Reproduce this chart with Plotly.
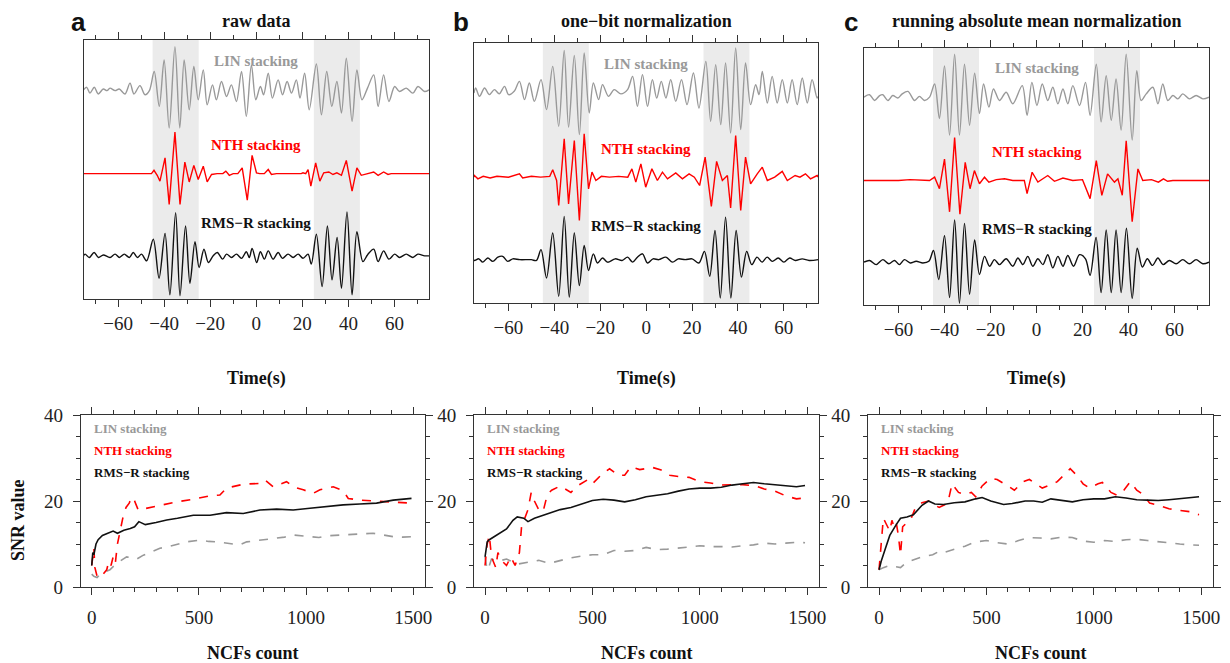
import plotly.graph_objects as go

# ---------------- data: waveforms (time s, relative amplitude) ----------------
TIME_RANGE = [-75, 75]
BANDS = [(-45, -25), (25, 45)]
OFFSETS = {"LIN": 0, "NTH": -101, "RMS": -200}

LIN_A = [(-75,0),(-73.6,3),(-72.2,-4),(-70.3,3),(-68.6,-5),(-66.4,1),(-64.8,-1),(-63.5,2),(-61.3,-1),(-59.5,1),(-57.0,-5),(-54.8,8),(-53.1,-5),(-50.5,5),(-48.3,-6),(-46.4,-1),(-44.3,22),(-42.1,-20),(-40.0,36),(-37.8,-46),(-35.3,52),(-33.2,-46),(-31.3,36),(-29.1,-24),(-27.1,28),(-25.2,-12),(-23.0,24),(-21.3,-18),(-19.0,6),(-17.3,-12),(-15.1,10),(-12.9,-8),(-10.8,6),(-8.6,-14),(-6.4,22),(-4.3,-32),(-2.1,30),(-0.2,-12),(1.8,4),(3.2,-6),(5.2,20),(7.0,-10),(9.5,12),(11.4,-6),(13.4,10),(15.3,-4),(17.4,12),(19.0,-10),(21.0,20),(23.0,-24),(26.1,31),(28.3,-30),(30.6,22),(32.8,-20),(35.0,10),(37.0,-28),(39.1,38),(41.6,-38),(43.7,24),(45.9,-12),(48.3,2),(51.0,18),(52.9,-20),(55.3,18),(57.6,-14),(60.1,4),(62.2,-2),(65.1,2),(68.0,-4),(70.2,4),(73.1,-2),(75,0)]
NTH_A = [(-75,0),(-45.5,0),(-44.4,4),(-43.0,-2),(-41.8,-9),(-39.6,19),(-37.8,-37),(-35.3,50),(-33.1,-37),(-31.0,14),(-29.1,-10),(-27.1,10),(-25.2,-7),(-23.0,9),(-21.3,-10),(-19.4,-1),(-17.0,0),(-14.5,0),(-13.2,3),(-11.7,-2),(-10.0,0),(-8.0,0),(-6.1,7),(-3.9,-32),(-1.8,22),(0.1,1),(1.5,0),(3.5,0),(5.2,5),(6.6,-1),(8.8,0),(12,0),(19.5,0),(20.3,1),(21.5,0),(22.5,5),(23.7,-15),(25.8,13),(27.6,-9),(29.3,1),(31.5,2),(33.3,-1),(35.0,1),(37.0,-2),(39.1,16),(41.6,-21),(43.7,7),(45.6,-2),(48,0),(51.0,2),(52.9,-2),(55.3,2),(57.2,-1),(58.6,0),(75,0)]
RMS_A = [(-75,0),(-74.3,2),(-72.5,-2),(-70.4,4),(-68.5,-2),(-66.4,1),(-63.5,-2),(-61.3,2),(-59.4,-2),(-57.3,2),(-55.1,-2),(-53.4,4),(-51.6,-2),(-49.8,2),(-47.6,-6),(-44.7,20),(-42.2,-27),(-39.6,27),(-37.5,-47),(-35.0,52),(-33.1,-48),(-30.7,36),(-28.8,-33),(-26.6,17),(-24.8,-14),(-22.7,8),(-20.8,-8),(-18.7,0),(-16.9,4),(-14.6,-4),(-12.9,2),(-10.7,-2),(-8.6,2),(-6.4,-3),(-4.3,5),(-3.0,-2),(-1.8,9),(0.2,-8),(1.8,5),(3.5,-4),(5.2,6),(7.3,-4),(9.5,4),(11.4,-3),(13.8,2),(16.0,-2),(18.2,2),(20.3,-3),(22.5,2),(23.9,-10),(26.1,26),(28.6,-37),(30.9,36),(32.9,-29),(35.1,22),(37.0,-39),(39.4,53),(41.6,-47),(43.7,29),(46.3,-7),(48.5,2),(51.0,8),(52.9,-7),(55.3,6),(57.6,-4),(60.1,2),(62.2,-2),(65.1,2),(68.0,-2),(70.2,2),(73.1,0),(75,0)]

LIN_B = [(-75,0),(-74.3,6),(-72.6,-4),(-70.4,6),(-68.3,-2),(-66.1,4),(-64.0,-1),(-61.7,8),(-59.9,-2),(-57.5,2),(-55.2,14),(-53.0,-8),(-50.9,12),(-48.7,-10),(-45.8,16),(-43.4,-20),(-40.7,32),(-38.1,-40),(-35.7,51),(-33.8,-41),(-31.3,45),(-29.1,-50),(-27.0,48),(-24.8,-24),(-23.0,12),(-20.7,-8),(-19.0,10),(-16.4,-4),(-13.9,4),(-11.0,-1),(-8.1,4),(-5.9,20),(-3.8,-16),(-1.6,22),(0.6,-16),(2.7,16),(4.6,-6),(6.6,14),(8.6,-6),(10.7,16),(12.9,-10),(15.4,16),(17.8,-14),(20.6,24),(23.0,-18),(26.0,38),(28.1,-34),(30.3,34),(32.5,-38),(34.6,36),(36.8,-48),(39.0,54),(41.2,-44),(43.3,36),(45.5,-14),(47.7,10),(49.2,-2),(50.6,26),(52.8,-12),(54.9,20),(57.1,-12),(59.3,16),(61.5,-12),(63.6,16),(65.8,-14),(68.0,18),(70.2,-12),(72.3,16),(74.5,-6),(75,-4)]
NTH_B = [(-75,0),(-74.8,2),(-73.3,-2),(-71,1),(-68,-1),(-65,1),(-60,0),(-55.2,4),(-53.8,-1),(-50,1),(-46,0),(-42,1),(-40.7,9),(-39.0,-4),(-38.1,-34),(-35.7,46),(-33.8,-32),(-31.3,44),(-29.1,-52),(-27.0,52),(-25.1,-14),(-23.6,6),(-21.9,-4),(-19.5,1),(-16,0),(-12,1),(-8,0),(-6.2,10),(-4.5,-6),(-2.3,16),(-0.2,-12),(2.5,10),(4.9,-4),(7.1,6),(9.3,-2),(12.9,5),(15.8,-2),(18.7,4),(21,0),(23.3,-10),(25.7,24),(28.4,-35),(30.7,19),(33.2,-4),(35.4,2),(36.8,-37),(39.0,50),(41.2,-40),(43.3,24),(45.5,-8),(48.4,4),(50.6,12),(52.8,-4),(56,0),(59.3,7),(61.5,-4),(64.9,2),(67,0),(69.4,4),(71.6,-2),(74.5,2),(75,0)]
RMS_B = [(-75,0),(-74.8,-1),(-72.9,1),(-71.2,-3),(-69.0,2),(-66.8,-2),(-64.6,3),(-62.5,4),(-60.3,-2),(-58.1,1),(-55,0),(-50,0),(-47.8,-1),(-45.8,12),(-43.4,-22),(-40.7,32),(-38.1,-44),(-35.7,52),(-33.5,-45),(-31.3,32),(-29.1,-31),(-27.0,17),(-25.1,-13),(-23.0,7),(-21.2,-4),(-19.0,2),(-16.8,-3),(-13.5,1),(-10.5,-1),(-8.1,3),(-5.9,-3),(-3.8,3),(-1.6,7),(0.6,-4),(3,1),(5.5,0),(8.6,3),(11.5,-3),(14,1),(17,0),(20,1),(23.0,-4),(25.4,10),(27.7,-20),(30.0,35),(32.3,-46),(34.6,51),(36.9,-46),(39.2,35),(41.5,-21),(43.8,10),(46.0,-6),(48.3,3),(50.5,-3),(52.7,3),(55,-2),(57.5,2),(60,-3),(62.5,2),(65,-1),(68,1),(71,-1),(75,0)]

LIN_C = [(-75,0),(-72.6,3),(-70.4,-4),(-68.2,2),(-66.8,3),(-64.6,-4),(-62.5,2),(-60.3,-1),(-58.4,4),(-55.9,7),(-53.0,-4),(-50.9,1),(-48.7,-4),(-46.5,0),(-44.3,16),(-42.2,-26),(-40.0,38),(-37.8,-46),(-35.6,52),(-33.5,-46),(-31.3,40),(-29.1,-34),(-26.9,29),(-24.8,-20),(-23.0,16),(-20.7,-12),(-18.7,10),(-16.1,-4),(-13.2,6),(-10.3,-8),(-6.2,14),(-4.1,-22),(-2.0,18),(0.2,-10),(2.5,16),(4.9,-4),(7.1,12),(9.3,-8),(11.5,10),(13.6,-8),(15.8,14),(18.7,-10),(21.3,18),(23.3,-22),(26.0,40),(28.1,-30),(30.3,26),(32.5,-28),(34.6,22),(36.8,-40),(39.0,52),(41.6,-52),(43.6,32),(45.5,-4),(47.7,4),(50.6,12),(52.8,-8),(54.9,16),(57.1,-4),(59.3,2),(61.5,-2),(63.6,4),(66.5,-2),(69.4,2),(72.3,-2),(75,0)]
NTH_C = [(-75,0),(-60,0),(-55,1),(-50,0),(-46.5,0),(-44.3,4),(-42.2,-10),(-40.0,26),(-37.8,-38),(-35.6,52),(-33.3,-41),(-31.0,22),(-28.9,-10),(-27.0,12),(-24.8,-4),(-22.6,4),(-20.7,-2),(-17.5,1),(-13.9,2),(-10.3,0),(-5.3,0),(-4.1,-16),(-1.9,10),(0.6,-2),(2.8,2),(4.9,6),(7.8,-1),(11.5,3),(15.8,0),(20.0,1),(23.3,-22),(26.0,24),(28.4,-18),(30.9,8),(33.9,-2),(35.4,2),(37.3,-18),(39.0,48),(41.6,-50),(44.1,14),(46.2,0),(50,1),(53,-2),(55.2,2),(57,-1),(59.3,0),(75,0)]
RMS_C = [(-75,0),(-72.6,2),(-69.7,-3),(-66.8,3),(-64.2,-2),(-61.7,2),(-59.6,-3),(-57.4,3),(-54.9,-1),(-52.3,1),(-49.4,-1),(-46.8,1),(-44.8,14),(-42.5,-21),(-40.0,32),(-37.8,-43),(-35.6,51),(-33.5,-50),(-31.3,47),(-29.1,-39),(-26.9,27),(-24.8,-15),(-22.6,7),(-20.4,-5),(-18.3,3),(-16.1,-3),(-13.2,4),(-10.3,-5),(-8.1,5),(-5.9,-3),(-3.8,7),(-1.6,-5),(0.6,4),(2.8,-3),(4.9,9),(7.1,-7),(9.3,7),(11.5,-5),(13.6,8),(16.1,-5),(18.7,9),(21.3,4),(23.3,-16),(25.9,30),(28.1,-37),(30.3,39),(32.5,-37),(34.6,39),(36.8,-37),(39.1,41),(41.6,-44),(43.8,17),(46.0,-6),(48.2,4),(50.4,-4),(52.8,5),(55.0,-3),(57.8,2),(60.7,-2),(63.6,3),(66.5,-2),(69.4,3),(72.3,-2),(75,0)]

# ---------------- data: SNR vs number of NCFs ----------------
LIN_A_SNR = [(0,3),(10,2.5),(25,2.2),(40,3),(60,3.5),(85,4),(116,5.5),(140,6.2),(163,7),(190,6.8),(210,6.5),(241,7.4),(280,8.2),(318,9),(360,9.4),(396,9.8),(443,10.5),(505,10.9),(545,10.6),(583,10.5),(640,10.1),(691,9.8),(723,10.5),(785,10.9),(850,11.2),(900,11.6),(940,12.1),(980,11.9),(1018,11.7),(1060,11.5),(1096,11.9),(1173,12.1),(1240,12.2),(1313,12.5),(1360,12.1),(1407,11.7),(1450,11.6),(1492,11.7)]
NTH_A_SNR = [(0,5),(5,8),(10,9),(15,4.5),(25,2.5),(40,2.2),(55,3),(70,4),(80,6),(90,5),(100,7),(110,5.5),(120,10),(132,13),(145,16),(160,18.5),(175,19.5),(186,20.9),(200,20),(217,17.9),(256,18.3),(318,19.1),(396,19.8),(474,20.4),(552,21.2),(598,21.4),(629,23),(707,23.9),(785,24.1),(808,24.9),(847,23.3),(909,24.5),(940,23.3),(987,22.6),(1034,21.8),(1065,22.6),(1127,23.3),(1173,22.4),(1197,20.6),(1251,20.2),(1329,20.0),(1407,19.8),(1492,19.5)]
RMS_A_SNR = [(0,5),(5,8),(10,7.5),(20,10),(30,11),(50,12),(75,12.5),(100,13),(120,12.5),(150,13.2),(180,13.6),(200,14),(220,15.2),(250,14.5),(300,15),(350,15.6),(400,16),(474,16.7),(552,16.7),(629,17.3),(707,17.1),(785,17.9),(863,18.1),(940,17.9),(1018,18.3),(1096,18.7),(1173,19.1),(1251,19.3),(1329,19.5),(1407,20.2),(1492,20.6)]

LIN_B_SNR = [(0,7),(10,4),(20,5),(30,6.5),(60,6),(100,6.5),(150,5.3),(200,5.8),(250,6.2),(300,5.5),(350,6.2),(400,6.8),(450,7.2),(500,7.5),(550,7.5),(600,8.5),(650,8.3),(700,8.5),(750,9.2),(800,8.7),(850,8.8),(900,9),(950,9.3),(1000,9.6),(1050,9.4),(1100,9.4),(1150,9.3),(1200,9.6),(1250,9.8),(1300,10.2),(1350,10),(1400,10.2),(1450,10.4),(1490,10.3)]
NTH_B_SNR = [(0,5),(10,10),(20,12),(30,7),(50,4.5),(60,8),(80,6),(100,5),(120,7),(140,5),(160,8),(170,14),(185,16),(200,18),(215,22),(230,20),(250,18),(270,17.5),(290,21.5),(310,22.5),(350,23.5),(400,22),(430,23.5),(480,25),(500,24),(550,26.5),(580,27.5),(620,26),(650,26),(680,28),(720,27.3),(780,27.8),(820,27.2),(860,26),(900,25.7),(950,25.5),(1000,24.5),(1050,24.2),(1100,23.7),(1150,23.8),(1200,23.8),(1260,23.5),(1300,22.8),(1350,22.3),(1400,21.2),(1450,20.5),(1490,20.7)]
RMS_B_SNR = [(0,7),(10,10.5),(20,11),(50,12),(80,13),(100,13.5),(130,15.5),(150,16.3),(180,16),(200,15.2),(230,16),(260,16.5),(300,17.2),(350,18),(400,18.5),(450,19.3),(500,20.1),(550,20.4),(600,20.2),(650,19.8),(700,20.3),(750,21),(800,21.3),(850,21.7),(900,22.3),(950,22.8),(1000,23),(1050,23),(1100,23.2),(1150,23.7),(1200,24),(1250,24.3),(1300,24),(1350,23.8),(1400,23.6),(1450,23.3),(1490,23.6)]

LIN_C_SNR = [(0,4),(20,4.5),(50,5),(100,4.5),(130,5.8),(170,6.5),(200,7),(250,7.5),(280,8.3),(300,8),(350,8.8),(400,9.5),(450,10.5),(500,10.8),(550,10.3),(600,10),(650,10.8),(700,11.5),(750,11.4),(800,11.2),(850,11.6),(900,11.5),(950,10.7),(1000,10.4),(1050,10.8),(1100,10.6),(1150,11),(1200,11.1),(1250,10.8),(1300,10.5),(1350,10.3),(1400,10),(1450,9.8),(1490,9.7)]
NTH_C_SNR = [(0,4),(10,10),(20,16),(30,15),(50,13),(60,15.5),(70,14),(80,15),(90,12),(100,7.5),(110,14),(130,15),(150,16),(170,18.5),(200,19.6),(230,20),(250,19.3),(280,18.5),(320,19.5),(340,24),(370,22),(400,21.5),(430,22),(450,21),(480,23.5),(520,25.3),(550,25),(600,23.5),(630,22.5),(670,24.5),(700,25),(730,24),(760,23),(800,23.8),(830,24.5),(870,26.5),(890,27.5),(920,26),(950,24),(980,23),(1020,24),(1040,24.3),(1080,22),(1110,21.3),(1140,22.5),(1170,24.5),(1200,22.5),(1230,21.5),(1260,19.5),(1300,19),(1350,18.2),(1400,17.8),(1450,17.5),(1490,16.8)]
RMS_C_SNR = [(0,4),(10,6),(30,9),(50,12),(80,14.5),(100,16),(130,16.3),(160,16.8),(200,19),(230,20),(260,19.3),(300,19.2),(350,19.6),(400,19.8),(450,20.5),(480,20.8),(520,20),(580,19.2),(620,19.4),(680,20),(720,20),(760,19.7),(800,20.5),(850,20.2),(900,19.8),(950,20.3),(1000,20.5),(1050,20.5),(1100,21),(1150,20.7),(1200,20.3),(1250,20.2),(1300,20.1),(1350,20.3),(1400,20.5),(1450,20.8),(1490,21)]

PANEL_TITLES = ["raw data", "one\u2212bit normalization", "running absolute mean normalization"]
PANEL_LETTERS = ["a", "b", "c"]
METHOD_LABELS = {"LIN": "LIN stacking", "NTH": "NTH stacking", "RMS": "RMS\u2212R stacking"}

# ---------------- style ----------------
PAGE_OFF = 8                    # the page body adds an 8 px margin
W, H = 1230 - PAGE_OFF, 663 - PAGE_OFF
SERIF = "Liberation Serif"
SANS = "Liberation Sans"
FRAME = "#333333"
COLORS = {"LIN": "#999999", "NTH": "#ff0000", "RMS": "#111111"}

def px_x(p):
    return (p - PAGE_OFF) / W

def px_y(p):
    return 1 - (p - PAGE_OFF) / H

TOP_BOX = [(83.5, 429, 40, 299), (474, 818.3, 43, 303), (864, 1209, 47.7, 305)]
BOT_BOX = [(81, 425, 415, 587), (474.3, 819, 415, 587), (868.3, 1213, 415, 587)]

def paper_text(x, y, text, size, color="#111", family=SERIF, xanchor="center", angle=0):
    return dict(x=px_x(x), y=px_y(y), xref="paper", yref="paper", showarrow=False,
                xanchor=xanchor, yanchor="middle", text=text, textangle=angle,
                font=dict(family=family, size=size, color=color))

fig = go.Figure()
layout = dict(width=W, height=H, margin=dict(l=0, r=0, t=0, b=0, pad=0, autoexpand=False),
              paper_bgcolor="white", plot_bgcolor="white", showlegend=False,
              font=dict(family=SERIF, size=18, color="#222"),
              shapes=[], annotations=[])

wave_sets = [(LIN_A, NTH_A, RMS_A), (LIN_B, NTH_B, RMS_B), (LIN_C, NTH_C, RMS_C)]
snr_sets = [(LIN_A_SNR, NTH_A_SNR, RMS_A_SNR), (LIN_B_SNR, NTH_B_SNR, RMS_B_SNR), (LIN_C_SNR, NTH_C_SNR, RMS_C_SNR)]

def tickfont():
    return dict(family=SERIF, size=19, color="#222")

for i in range(3):
    # ---- top panel (waveforms) ----
    xa = "x" if i == 0 else f"x{i+1}"
    ya = "y" if i == 0 else f"y{i+1}"
    l, r, t, b = TOP_BOX[i]
    layout["xaxis" if i == 0 else f"xaxis{i+1}"] = dict(
        domain=[px_x(l), px_x(r)], anchor=ya, range=TIME_RANGE,
        showline=True, linecolor=FRAME, linewidth=1.4, mirror="ticks",
        ticks="outside", tick0=0, dtick=20, ticklen=7, tickwidth=1.2, tickcolor=FRAME,
        minor=dict(ticks="outside", dtick=10, ticklen=4, tickwidth=1.2, tickcolor=FRAME),
        showgrid=False, zeroline=False, tickfont=tickfont(), automargin=False)
    layout["yaxis" if i == 0 else f"yaxis{i+1}"] = dict(
        domain=[px_y(b), px_y(t)], anchor=xa, range=[-252, 60],
        showline=True, linecolor=FRAME, linewidth=1.4, mirror=True,
        ticks="", showticklabels=False, showgrid=False, zeroline=False, automargin=False)
    for (b0, b1) in BANDS:
        layout["shapes"].append(dict(type="rect", xref=xa, yref=f"{ya} domain",
                                     x0=b0, x1=b1, y0=0, y1=1, fillcolor="#ebebeb",
                                     line=dict(width=0), layer="below"))
    for key, wave in zip(["LIN", "NTH", "RMS"], wave_sets[i]):
        ts = [p[0] for p in wave]
        amps = [p[1] + OFFSETS[key] for p in wave]
        if key == "NTH":
            line = dict(color=COLORS[key], width=1.4, shape="linear")
        else:
            line = dict(color=COLORS[key], width=1.4, shape="spline", smoothing=0.9)
        fig.add_trace(go.Scatter(x=ts, y=amps, mode="lines", xaxis=xa, yaxis=ya,
                                 line=line, hoverinfo="skip"))
    for key, yv in zip(["LIN", "NTH", "RMS"], [35, -67, -160]):
        layout["annotations"].append(dict(x=0, y=yv, xref=xa, yref=ya, showarrow=False,
                                          xanchor="center", yanchor="middle",
                                          text=f"<b>{METHOD_LABELS[key]}</b>",
                                          font=dict(family=SERIF, size=15, color=COLORS[key])))
    cx = (l + r) / 2
    layout["annotations"].append(paper_text(cx, 21, f"<b>{PANEL_TITLES[i]}</b>", 18))
    layout["annotations"].append(paper_text(cx, 378, "<b>Time(s)</b>", 18))

    # ---- bottom panel (SNR) ----
    j = i + 4
    xb, yb = f"x{j}", f"y{j}"
    l2, r2, t2, b2 = BOT_BOX[i]
    layout[f"xaxis{j}"] = dict(
        domain=[px_x(l2), px_x(r2)], anchor=yb, range=[-50, 1555],
        showline=True, linecolor=FRAME, linewidth=1.4, mirror="ticks",
        ticks="outside", tick0=0, dtick=500, ticklen=7, tickwidth=1.2, tickcolor=FRAME,
        minor=dict(ticks="outside", dtick=100, ticklen=4, tickwidth=1.2, tickcolor=FRAME),
        showgrid=False, zeroline=False, tickfont=tickfont(), automargin=False,
        ticklabelstandoff=6)
    layout[f"yaxis{j}"] = dict(
        domain=[px_y(b2), px_y(t2)], anchor=xb, range=[0, 40],
        showline=True, linecolor=FRAME, linewidth=1.4, mirror="ticks",
        ticks="outside", tick0=0, dtick=20, ticklen=7, tickwidth=1.2, tickcolor=FRAME,
        minor=dict(ticks="outside", dtick=5, ticklen=4, tickwidth=1.2, tickcolor=FRAME),
        showgrid=False, zeroline=False, tickfont=tickfont(), automargin=False,
        ticklabelstandoff=6)
    for key, curve in zip(["LIN", "NTH", "RMS"], snr_sets[i]):
        ns = [p[0] for p in curve]
        vs = [p[1] for p in curve]
        dash = "solid" if key == "RMS" else "dash"
        fig.add_trace(go.Scatter(x=ns, y=vs, mode="lines", xaxis=xb, yaxis=yb,
                                 line=dict(color=COLORS[key], width=1.6, dash=dash),
                                 hoverinfo="skip"))
    for key, ypx in zip(["LIN", "NTH", "RMS"], [428, 450, 472]):
        layout["annotations"].append(paper_text(l2 + 11, ypx, f"<b>{METHOD_LABELS[key]}</b>", 13,
                                                color=COLORS[key], xanchor="left"))
    layout["annotations"].append(paper_text((l2 + r2) / 2, 653, "<b>NCFs count</b>", 18))

# panel letters
for letter, xp in zip(PANEL_LETTERS, [78, 461, 851]):
    layout["annotations"].append(paper_text(xp, 22, f"<b>{letter}</b>", 26, family=SANS))
# SNR axis label
layout["annotations"].append(paper_text(18, 520, "<b>SNR value</b>", 18, angle=-90))

fig.update_layout(**layout)
fig.write_html("out.html")
